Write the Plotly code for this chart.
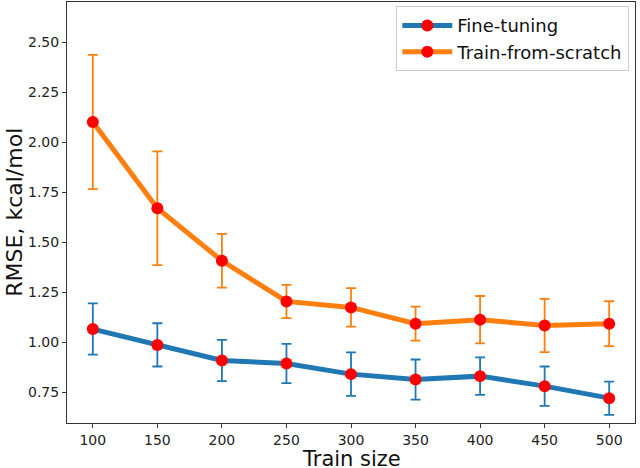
import plotly.graph_objects as go

train_size = [100, 150, 200, 250, 300, 350, 400, 450, 500]
finetune_rmse = [1.067, 0.988, 0.910, 0.895, 0.842, 0.815, 0.832, 0.782, 0.722]
finetune_err = [0.128, 0.108, 0.103, 0.098, 0.109, 0.100, 0.094, 0.098, 0.083]
scratch_rmse = [2.101, 1.670, 1.408, 1.205, 1.175, 1.094, 1.114, 1.085, 1.094]
scratch_err = [0.335, 0.284, 0.134, 0.083, 0.096, 0.085, 0.118, 0.133, 0.112]
y_ticks = [0.75, 1.00, 1.25, 1.50, 1.75, 2.00, 2.25, 2.50]

series = [
    ("Fine-tuning", finetune_rmse, finetune_err, "#1f77b4"),
    ("Train-from-scratch", scratch_rmse, scratch_err, "#ff7f0e"),
]

fig = go.Figure()
for name, vals, errs, color in series:
    fig.add_trace(go.Scatter(
        x=train_size, y=vals, name=name, mode="lines+markers",
        line=dict(color=color, width=5),
        marker=dict(color="red", size=12, line=dict(width=0)),
        error_y=dict(type="data", array=errs, visible=True, color=color,
                     thickness=1.8, width=5),
    ))

axis_common = dict(
    showline=True, linecolor="#333333", linewidth=1, mirror=True,
    ticks="outside", ticklen=4, tickcolor="#333333", showgrid=False,
    zeroline=False, automargin=False,
    tickfont=dict(family="DejaVu Sans", size=14, color="#222"),
)

fig.update_layout(
    width=640, height=468,
    margin=dict(l=67, r=5, t=2, b=45, autoexpand=False),
    paper_bgcolor="white", plot_bgcolor="white",
    font=dict(family="DejaVu Sans", color="#111"),
    xaxis=dict(range=[80, 520], tickvals=train_size, **axis_common),
    yaxis=dict(range=[0.598, 2.70], tickvals=y_ticks, tickformat=".2f",
               **axis_common),
    legend=dict(x=0.99, y=0.99, xanchor="right", yanchor="top",
                bgcolor="white", bordercolor="#cccccc", borderwidth=1,
                font=dict(size=18, family="DejaVu Sans"), itemwidth=50),
    showlegend=True,
    annotations=[
        dict(text="Train size", xref="paper", yref="paper", x=0.5, y=-0.085,
             xanchor="center", yanchor="middle", showarrow=False, borderpad=0,
             font=dict(size=21, family="DejaVu Sans", color="#111")),
        dict(text="RMSE, kcal/mol", xref="paper", yref="paper", x=-0.093, y=0.5,
             xanchor="center", yanchor="middle", textangle=-90, showarrow=False,
             font=dict(size=22, family="DejaVu Sans", color="#111")),
    ],
)

fig.write_html("out.html", config={"displayModeBar": False},
               post_script="document.body.style.margin='0';document.body.style.overflow='hidden';")
